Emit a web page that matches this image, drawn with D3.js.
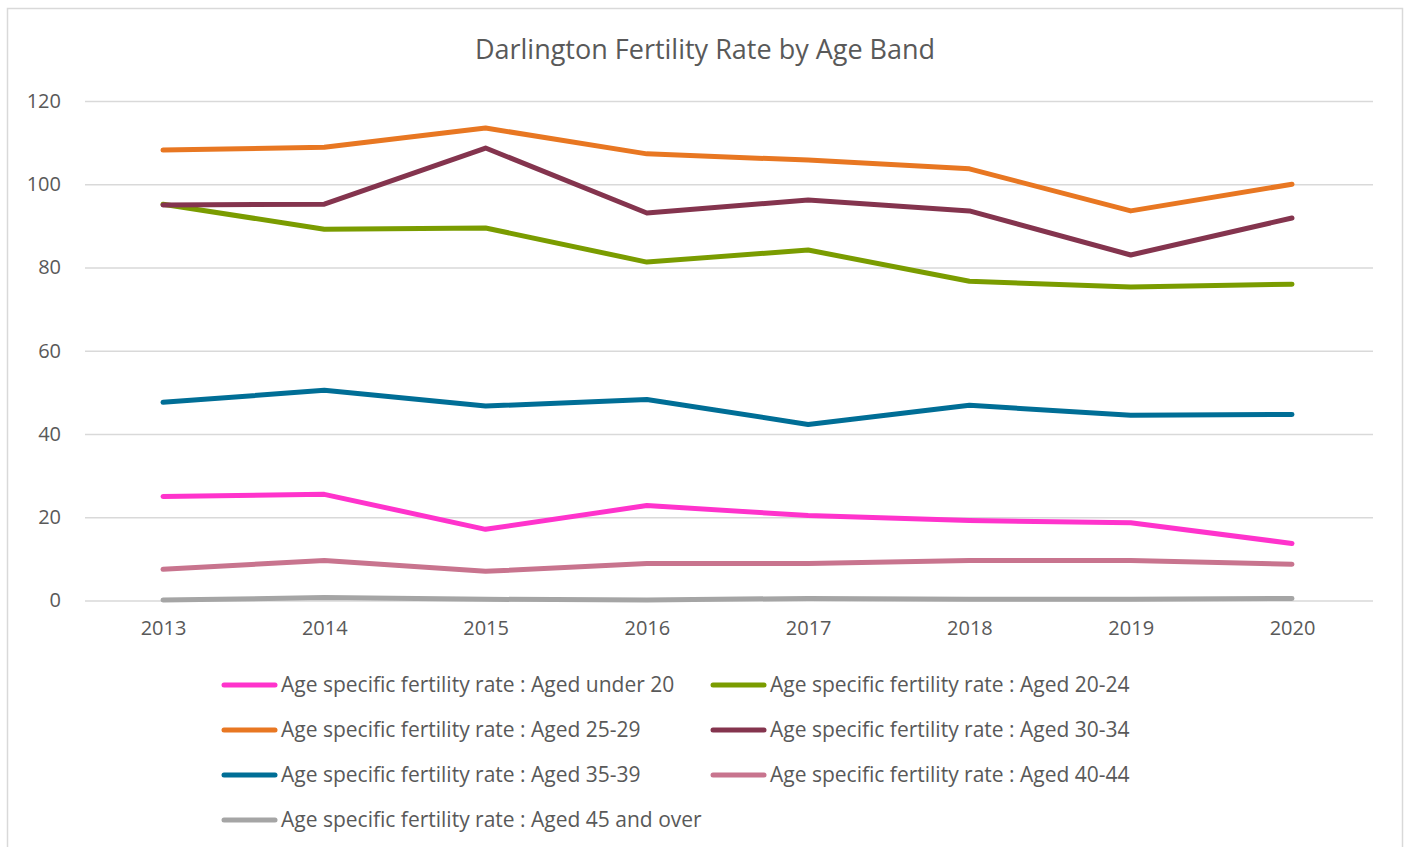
<!DOCTYPE html>
<html>
<head>
<meta charset="utf-8">
<script src="https://cdn.jsdelivr.net/npm/d3@7"></script>
<style>
  body { margin: 0; background: #fff; }
  text { font-family: "Open Sans", "Noto Sans", sans-serif; }
</style>
</head>
<body>
<svg id="chart"></svg>
<script>
var years = ["2013", "2014", "2015", "2016", "2017", "2018", "2019", "2020"];
var seriesNames = [
  "Age specific fertility rate : Aged under 20",
  "Age specific fertility rate : Aged 20-24",
  "Age specific fertility rate : Aged 25-29",
  "Age specific fertility rate : Aged 30-34",
  "Age specific fertility rate : Aged 35-39",
  "Age specific fertility rate : Aged 40-44",
  "Age specific fertility rate : Aged 45 and over"
];
var under20 = [25.0, 25.5, 17.1, 22.8, 20.4, 19.2, 18.7, 13.7];
var aged2024 = [95.2, 89.2, 89.5, 81.3, 84.2, 76.7, 75.3, 76.0];
var aged2529 = [108.2, 108.9, 113.5, 107.3, 105.8, 103.7, 93.6, 100.0];
var aged3034 = [95.0, 95.2, 108.7, 93.1, 96.2, 93.6, 83.0, 91.9];
var aged3539 = [47.6, 50.5, 46.7, 48.3, 42.3, 46.9, 44.5, 44.7];
var aged4044 = [7.5, 9.6, 7.0, 8.9, 8.9, 9.6, 9.6, 8.7];
var aged45 = [0.1, 0.7, 0.3, 0.1, 0.5, 0.3, 0.3, 0.5];
var yTicks = [0, 20, 40, 60, 80, 100, 120];
var colors = ["#FF33CC", "#7A9C00", "#E87722", "#84344E", "#006E96", "#C8748E", "#A5A5A5"];

var screen = { width: 1407, height: 847 };
var margins = { top: 101, bottom: 247, left: 85, right: 34 };

var allSeries = [under20, aged2024, aged2529, aged3034, aged3539, aged4044, aged45];

var svg = d3.select("#chart")
  .attr("width", screen.width)
  .attr("height", screen.height);

// outer chart border
svg.append("rect")
  .attr("x", 7.5).attr("y", 8.5)
  .attr("width", 1395).attr("height", 850)
  .attr("fill", "#fff")
  .attr("stroke", "#d9d9d9")
  .attr("stroke-width", 1.5);

svg.append("text")
  .text("Darlington Fertility Rate by Age Band")
  .attr("x", 705).attr("y", 59)
  .attr("text-anchor", "middle")
  .attr("font-size", 27)
  .attr("fill", "#595959");

var graphWidth = screen.width - margins.left - margins.right;
var graphHeight = screen.height - margins.top - margins.bottom;

var xScale = d3.scalePoint()
  .domain(years)
  .range([78, graphWidth - 81]);

var yScale = d3.scaleLinear()
  .domain([0, 120])
  .range([graphHeight + 0.5, 0]);

var plot = svg.append("g")
  .attr("transform", "translate(" + margins.left + "," + margins.top + ")");

var yAxis = plot.append("g")
  .call(d3.axisLeft(yScale).tickValues(yTicks).tickSize(-graphWidth).tickPadding(24));
yAxis.select(".domain").remove();
yAxis.selectAll(".tick line").attr("stroke", "#d9d9d9").attr("stroke-width", 1.5);
yAxis.selectAll(".tick text").attr("font-size", 20).attr("fill", "#595959");

var xAxis = plot.append("g")
  .attr("transform", "translate(0," + graphHeight + ")")
  .call(d3.axisBottom(xScale).tickSize(0).tickPadding(21));
xAxis.select(".domain").remove();
xAxis.selectAll(".tick text").attr("font-size", 20).attr("fill", "#595959");

var lineDrawer = d3.line()
  .x(function(d, i) { return xScale(years[i]); })
  .y(function(d) { return yScale(d); });

plot.selectAll(".series")
  .data(allSeries)
  .enter()
  .append("path")
  .attr("d", lineDrawer)
  .attr("fill", "none")
  .attr("stroke", function(d, i) { return colors[i]; })
  .attr("stroke-width", 5)
  .attr("stroke-linecap", "round")
  .attr("stroke-linejoin", "round");

// legend, two columns
var legend = svg.append("g");
var items = legend.selectAll("g")
  .data(seriesNames)
  .enter()
  .append("g")
  .attr("transform", function(d, i) {
    return "translate(" + (i % 2 == 0 ? 224 : 713) + "," + (685 + Math.floor(i / 2) * 45) + ")";
  });
items.append("line")
  .attr("x1", 0).attr("x2", 51)
  .attr("stroke", function(d, i) { return colors[i]; })
  .attr("stroke-width", 5)
  .attr("stroke-linecap", "round");
items.append("text")
  .text(function(d) { return d; })
  .attr("x", 57).attr("y", 7)
  .attr("font-size", 21)
  .attr("fill", "#595959");
</script>
</body>
</html>
